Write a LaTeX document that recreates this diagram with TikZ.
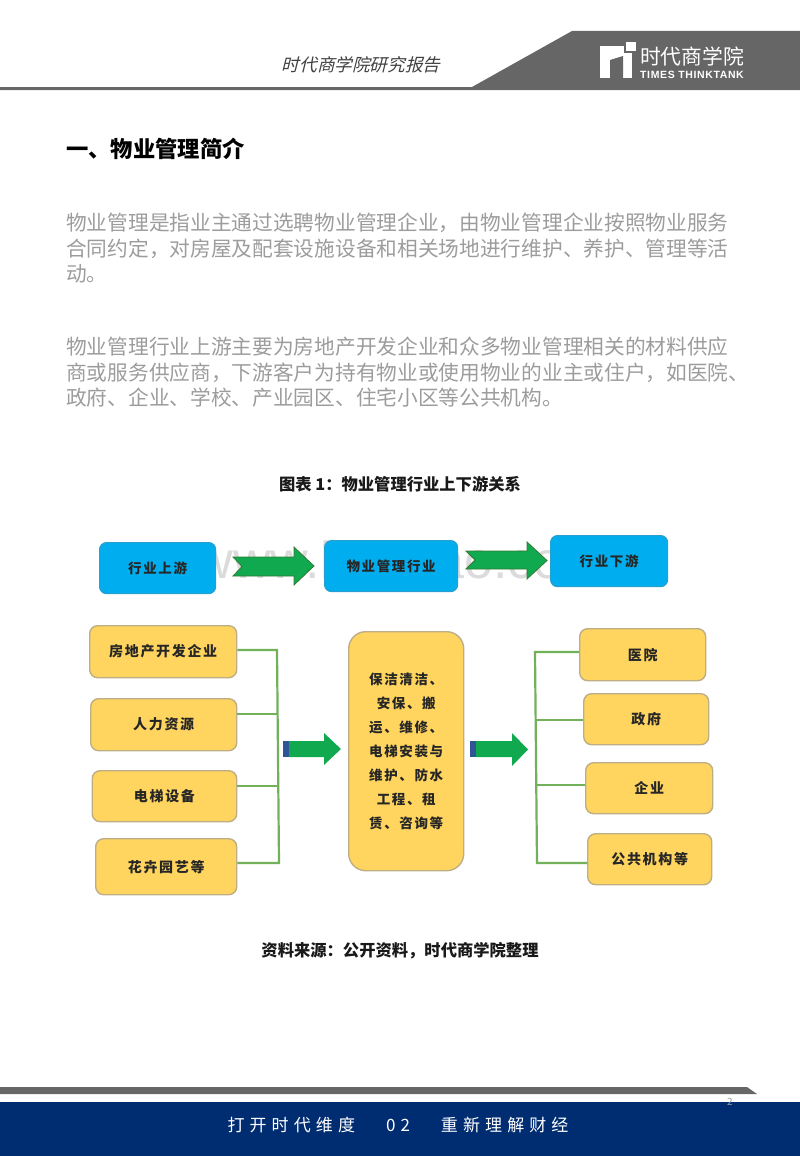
\documentclass[tikz,border=0pt]{standalone}
\usepackage{fontspec}
\setmainfont{Noto Sans CJK SC}
\newfontfamily\slantfont[FakeSlant=0.25]{Noto Sans CJK SC}
\newfontfamily\spacefont[LetterSpace=12]{Noto Sans CJK SC}
\newfontfamily\markfont{Liberation Sans}
\newfontfamily\logofont[LetterSpace=6]{Liberation Sans}
\definecolor{bandgray}{HTML}{666666}
\definecolor{bandblue}{HTML}{002D72}
\definecolor{bodygray}{HTML}{9C9C9C}
\definecolor{boxblue}{HTML}{00AEEF}
\definecolor{boxyellow}{HTML}{FFD55F}
\definecolor{edgeyellow}{HTML}{BDAE84}
\definecolor{arrowgreen}{HTML}{10A94F}
\definecolor{linegreen}{HTML}{72B05A}
\definecolor{tailblue}{HTML}{2F5597}
\tikzset{
  bluebox/.style={draw=boxblue!70!gray,fill=boxblue,line width=1.2pt,rounded corners=7pt,anchor=north west,inner sep=0pt,font=\spacefont\bfseries\fontsize{13.5}{16}\selectfont,text=black!85},
  yellowbox/.style={draw=edgeyellow,fill=boxyellow,line width=1.4pt,rounded corners=8pt,anchor=north west,inner sep=0pt,font=\spacefont\bfseries\fontsize{14}{16}\selectfont,text=black!85},
  bodytext/.style={anchor=north west,inner sep=0pt,align=left,text=bodygray,font=\fontsize{20.7}{25.6}\selectfont},
  captext/.style={inner sep=0pt,text=black!90,font=\bfseries\fontsize{16.3}{18}\selectfont},
  greenline/.style={draw=linegreen,line width=2.2pt},
  greenarrow/.style={draw=green!35!black!80,fill=arrowgreen,line width=0.8pt,line join=miter}
}
\begin{document}
\begin{tikzpicture}[x=1pt,y=-1pt]
\useasboundingbox (0,0) rectangle (800,1156);
% header
\fill[bandgray] (0,87) -- (472,87) -- (572,31) -- (800,31) -- (800,90) -- (0,90) -- cycle;
\node (report) at (361,65) [inner sep=0pt,text=black!75,font=\slantfont\fontsize{17.6}{20}\selectfont] {时代商学院研究报告};
\fill[white] (600,46) rectangle (632,78);
\fill[bandgray] (610,60) -- (623,56) -- (623,78) -- (610,78) -- cycle;
\fill[bandgray] (624,40) rectangle (638,53);
\fill[white] (626,42) rectangle (636,51.5);
\node (logocn) at (692,57) [inner sep=0pt,text=white,font=\fontsize{20.8}{22}\selectfont] {时代商学院};
\node (logoen) at (692,75) [inner sep=0pt,text=white,font=\logofont\bfseries\fontsize{10.5}{12}\selectfont] {TIMES THINKTANK};
% text
\node (title) at (66,138) [anchor=north west,inner sep=0pt,font=\bfseries\fontsize{22.3}{26}\selectfont] {一、物业管理简介};
\node (para1) at (66,213) [bodytext] {物业管理是指业主通过选聘物业管理企业，由物业管理企业按照物业服务\\合同约定，对房屋及配套设施设备和相关场地进行维护、养护、管理等活\\动。};
\node (para2) at (66,337) [bodytext] {物业管理行业上游主要为房地产开发企业和众多物业管理相关的材料供应\\商或服务供应商，下游客户为持有物业或使用物业的业主或住户，如医院、\\政府、企业、学校、产业园区、住宅小区等公共机构。};
\node (cap) at (400,484) [captext] {图表 1：物业管理行业上下游关系};
\node (source) at (400,951) [captext] {资料来源：公开资料，时代商学院整理};
% watermark
\node (mark) at (401,578) [anchor=base,inner sep=0pt,text=black!14,font=\markfont\fontsize{52}{54}\selectfont] {www.baogao.com};
% top row
\node (up) at (99,542) [bluebox,minimum width=116pt,minimum height=51pt] {行业上游};
\node (mid) at (324,540) [bluebox,minimum width=133pt,minimum height=51pt] {物业管理行业};
\node (down) at (550,535) [bluebox,minimum width=117pt,minimum height=51pt] {行业下游};
\draw[greenarrow] (233,557) -- (294,557) -- (294,547) -- (314,566) -- (294,585) -- (294,576) -- (233,576) -- (242,566.5) -- cycle;
\draw[greenarrow] (466,551) -- (527,551) -- (527,542) -- (547,560.5) -- (527,579) -- (527,569) -- (466,569) -- (475,560) -- cycle;
% left column
\node (estate) at (89,625) [yellowbox,minimum width=147pt,minimum height=52pt] {房地产开发企业};
\node (labour) at (90,698) [yellowbox,minimum width=146pt,minimum height=52pt] {人力资源};
\node (lift) at (91.5,770) [yellowbox,minimum width=144.5pt,minimum height=51pt] {电梯设备};
\node (garden) at (95,838) [yellowbox,minimum width=141pt,minimum height=56pt] {花卉园艺等};
% centre
\node (work) at (348,631) [yellowbox,rounded corners=17pt,minimum width=115pt,minimum height=239pt,align=center,font=\spacefont\bfseries\fontsize{13.5}{24}\selectfont] {保洁清洁、\\安保、搬\\运、维修、\\电梯安装与\\维护、防水\\工程、租\\赁、咨询等};
% right column
\node (hospital) at (579,628) [yellowbox,minimum width=126pt,minimum height=52pt] {医院};
\node (gov) at (583,693) [yellowbox,minimum width=125pt,minimum height=51pt] {政府};
\node (firm) at (585,762) [yellowbox,minimum width=127pt,minimum height=51pt] {企业};
\node (public) at (587,833) [yellowbox,minimum width=124pt,minimum height=51pt] {公共机构等};
% brackets
\coordinate (ltop) at (277,650);
\coordinate (lbot) at (279,863);
\coordinate (rtop) at (535,652);
\coordinate (rbot) at (537,863);
\coordinate (lmid1) at (278,714);
\coordinate (lmid2) at (278,786);
\coordinate (rmid1) at (536,720);
\coordinate (rmid2) at (536,785);
\draw[greenline] (estate.east |- ltop) -- (ltop) -- (lbot) -- (garden.east |- lbot);
\draw[greenline] (labour.east |- lmid1) -- (lmid1);
\draw[greenline] (lift.east |- lmid2) -- (lmid2);
\draw[greenline] (hospital.west |- rtop) -- (rtop) -- (rbot) -- (public.west |- rbot);
\draw[greenline] (gov.west |- rmid1) -- (rmid1);
\draw[greenline] (firm.west |- rmid2) -- (rmid2);
% middle arrows
\fill[tailblue] (283,741) rectangle (289,757);
\fill[arrowgreen] (289,741) -- (324,741) -- (324,733) -- (341,749) -- (324,765) -- (324,757) -- (289,757) -- cycle;
\fill[tailblue] (470,741) rectangle (476,757);
\fill[arrowgreen] (476,741) -- (512,741) -- (512,733) -- (528,749.5) -- (512,766) -- (512,757) -- (476,757) -- cycle;
% footer
\fill[bandgray] (0,1087) -- (747,1087) -- (757,1094) -- (0,1094) -- cycle;
\fill[bandblue] (0,1102) rectangle (800,1156);
\node (slogan) at (398,1125) [inner sep=0pt,text=white,font=\fontsize{17}{20}\selectfont] {\addfontfeature{LetterSpace=30}打开时代维度\hspace{31pt}02\hspace{31pt}重新理解财经};
\node (page) at (730,1102) [inner sep=0pt,text=gray!80,font=\fontsize{10}{12}\selectfont] {2};
\end{tikzpicture}
\end{document}
